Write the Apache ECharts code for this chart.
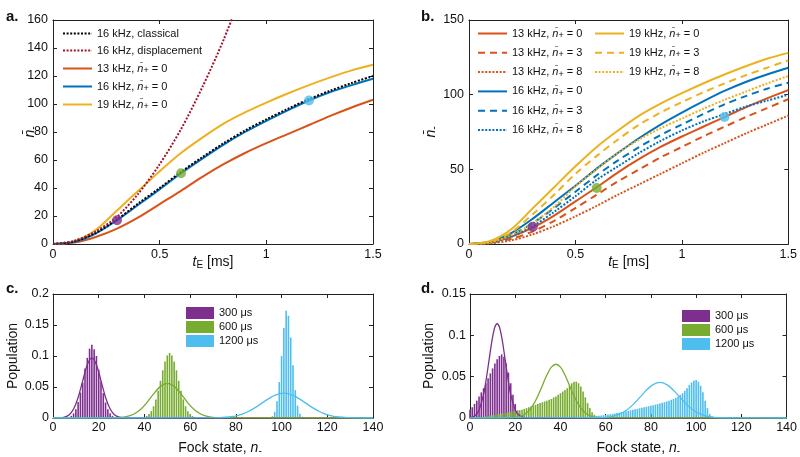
<!DOCTYPE html>
<html>
<head>
  <meta charset="UTF-8" />
  <title>Fock state growth</title>
  <script src="https://cdn.jsdelivr.net/npm/echarts@6/dist/echarts.min.js"></script>
  <style>
    html, body { margin: 0; padding: 0; background: #fff; }
    #main { width: 800px; height: 457px; }
  </style>
</head>
<body>
  <div id="main"></div>
  <script>
    // ---- data: panels a / b (mean occupation vs time) ----
    const tE = [0, 0.1, 0.2, 0.3, 0.4, 0.5, 0.6, 0.7, 0.8, 0.9, 1.0, 1.1, 1.2, 1.3, 1.4, 1.5];
    const nClassical16 = [0, 1.8, 8, 17.5, 29, 40, 51.5, 62, 72, 81, 89, 96.5, 103.5, 109.5, 115, 120];
    const tDisp = [0, 0.1, 0.2, 0.3, 0.4, 0.5, 0.6, 0.7, 0.8, 0.9];
    const nDisp16 = [0, 2.3, 9, 19.5, 36, 57, 82, 112, 146, 185];
    const n13_0 = [0, 1, 5, 11, 19, 28.5, 38, 48, 57, 65, 72, 78.5, 85, 91.5, 97.5, 103];
    const n13_3 = [0, 0.8, 3.5, 8.5, 15.5, 24, 33, 42, 50, 58, 65, 72, 78.5, 85, 91, 97];
    const n13_8 = [0, 0.5, 2.5, 6.5, 12, 18.5, 25.5, 33, 40, 47, 54, 61, 67.5, 74, 80, 86];
    const n16_0 = [0, 1.5, 7.5, 17, 28, 39, 50.5, 61, 71, 80, 88, 95.5, 102.5, 108.5, 113.5, 118];
    const n16_3 = [0, 1.2, 6, 14, 24, 35, 46, 56, 65, 73, 80, 87, 93.5, 99, 104, 108];
    const n16_8 = [0, 1, 5, 12, 21.5, 32, 43, 52, 61, 69, 76, 82, 87, 92, 96, 100];
    const n19_0 = [0, 2, 10, 24, 38, 52, 65, 76, 86, 94, 101, 107.5, 113.5, 119, 124, 128];
    const n19_3 = [0, 1.5, 8, 20, 33, 47, 59, 70, 80, 88, 95, 101.5, 107.5, 113, 118, 123];
    const n19_8 = [0, 1, 6, 14, 25, 38.5, 50, 61, 70, 77.5, 84, 90.5, 96.5, 102, 107.5, 112.5];
    const markT = [0.3, 0.6, 1.2];
    const markA = [17, 50.5, 102.5];
    const markB = [11.5, 37.5, 85];

    // ---- data: panel c (16 kHz) ----
    const c300Start = 8;
    const c300Pop = [0.0035, 0.0075, 0.014, 0.026, 0.041, 0.057, 0.08, 0.097, 0.112, 0.118, 0.111, 0.1, 0.078, 0.059, 0.04, 0.025, 0.014, 0.0075, 0.0035, 0.0015];
    const c600Start = 40;
    const c600Pop = [0.0016, 0.0033, 0.0064, 0.011, 0.019, 0.03, 0.044, 0.06, 0.077, 0.091, 0.101, 0.105, 0.101, 0.091, 0.077, 0.06, 0.044, 0.03, 0.019, 0.011, 0.0064, 0.0033, 0.0016];
    const c1200Start = 96;
    const c1200Pop = [0.003, 0.01, 0.027, 0.058, 0.1, 0.145, 0.173, 0.165, 0.13, 0.085, 0.045, 0.02, 0.007, 0.002];
    const cFit300N = [0, 3, 5, 7, 9, 11, 13, 15, 17, 19, 21, 23, 25, 27, 29, 31, 33, 140];
    const cFit300P = [0, 0.0002, 0.0013, 0.0049, 0.0144, 0.033, 0.06, 0.086, 0.097, 0.086, 0.06, 0.033, 0.0144, 0.0049, 0.0013, 0.0002, 0, 0];
    const cFit600N = [0, 26, 29, 32, 35, 38, 41, 44, 47, 50, 53, 56, 59, 62, 65, 68, 71, 74, 140];
    const cFit600P = [0, 0.0001, 0.0006, 0.0021, 0.0056, 0.0129, 0.0245, 0.0388, 0.051, 0.056, 0.051, 0.0388, 0.0245, 0.0129, 0.0056, 0.0021, 0.0006, 0.0001, 0];
    const cFit1200N = [0, 69, 73, 77, 81, 85, 89, 93, 97, 101, 105, 109, 113, 117, 121, 125, 129, 133, 140];
    const cFit1200P = [0, 0.0001, 0.0005, 0.0016, 0.0043, 0.0097, 0.018, 0.028, 0.0366, 0.04, 0.0366, 0.028, 0.018, 0.0097, 0.0043, 0.0016, 0.0005, 0.0001, 0];

    // ---- data: panel d (13 kHz) ----
    const d300Start = 0;
    const d300Pop = [0.01, 0.013, 0.017, 0.021, 0.026, 0.031, 0.036, 0.042, 0.048, 0.054, 0.06, 0.066, 0.071, 0.075, 0.077, 0.074, 0.066, 0.055, 0.042, 0.028, 0.017, 0.009, 0.004, 0.002];
    const d600Start = 5;
    const d600Pop = [0.001, 0.0015, 0.002, 0.0025, 0.003, 0.0035, 0.004, 0.0045, 0.005, 0.0055, 0.006, 0.0065, 0.007, 0.0075, 0.008, 0.0085, 0.009, 0.0095, 0.01, 0.011,
      0.012, 0.013, 0.014, 0.015, 0.016, 0.017, 0.018, 0.019, 0.02, 0.021, 0.022, 0.023, 0.025, 0.026, 0.028, 0.03, 0.032, 0.034, 0.036, 0.039,
      0.042, 0.044, 0.044, 0.042, 0.038, 0.032, 0.025, 0.018, 0.012, 0.007, 0.004, 0.002, 0.001];
    const d1200Start = 50;
    const d1200Pop = [0.001, 0.0012, 0.0014, 0.0016, 0.0018, 0.002, 0.0023, 0.0026, 0.003, 0.0034, 0.0038, 0.0042, 0.0046, 0.005, 0.0055, 0.006, 0.0065, 0.007, 0.0076, 0.0082,
      0.0088, 0.0094, 0.01, 0.0106, 0.0112, 0.0118, 0.0124, 0.013, 0.0136, 0.0142, 0.0148, 0.0155, 0.0162, 0.0169, 0.0176, 0.0184, 0.0192, 0.02, 0.021, 0.022,
      0.023, 0.0245, 0.026, 0.028, 0.03, 0.033, 0.036, 0.04, 0.043, 0.045, 0.046, 0.044, 0.039, 0.031, 0.021, 0.012, 0.005, 0.002];
    const dFit300N = [0, 2, 4, 6, 7, 8, 9, 10, 11, 12, 13, 14, 15, 16, 17, 18, 20, 22, 24, 26, 140];
    const dFit300P = [0.0005, 0.0024, 0.0098, 0.0285, 0.044, 0.062, 0.081, 0.098, 0.11, 0.114, 0.11, 0.098, 0.081, 0.062, 0.044, 0.0285, 0.0098, 0.0024, 0.0005, 0, 0];
    const dFit600N = [0, 16, 20, 22, 24, 26, 28, 30, 32, 34, 36, 38, 40, 42, 44, 46, 48, 50, 52, 54, 56, 60, 140];
    const dFit600P = [0, 0.0001, 0.0007, 0.0018, 0.0043, 0.0088, 0.0162, 0.0267, 0.0394, 0.052, 0.0615, 0.065, 0.0615, 0.052, 0.0394, 0.0267, 0.0162, 0.0088, 0.0043, 0.0018, 0.0007, 0.0001, 0];
    const dFit1200N = [0, 57, 60, 63, 66, 69, 72, 75, 78, 81, 84, 87, 90, 93, 96, 99, 102, 105, 108, 111, 140];
    const dFit1200P = [0, 0.0003, 0.0008, 0.002, 0.0046, 0.0091, 0.0159, 0.0246, 0.0335, 0.0404, 0.043, 0.0404, 0.0335, 0.0246, 0.0159, 0.0091, 0.0046, 0.002, 0.0008, 0.0003, 0];

    const FONT = '"Liberation Sans", Arial, sans-serif';
    const RED = '#D95319', BLUE = '#0072BD', YEL = '#EDB120', DRED = '#A2142F';
    const PUR = '#7E2F8E', GRN = '#77AC30', CYA = '#4DBEEE';
    const DASH = [7, 5], DOT = [2, 1.6];

    const pairs = (xs, ys) => ys.map((y, i) => [xs[i], y]);
    const fromStart = (start, ys) => ys.map((y, i) => [start + i, y]);

    const legendText = {
      cl16: '16 kHz, classical', disp16: '16 kHz, displacement',
      a13: '13 kHz, {i|n̄}{s|+} = 0', a16: '16 kHz, {i|n̄}{s|+} = 0', a19: '19 kHz, {i|n̄}{s|+} = 0',
      b13_0: '13 kHz, {i|n̄}{s|+} = 0', b13_3: '13 kHz, {i|n̄}{s|+} = 3', b13_8: '13 kHz, {i|n̄}{s|+} = 8',
      b16_0: '16 kHz, {i|n̄}{s|+} = 0', b16_3: '16 kHz, {i|n̄}{s|+} = 3', b16_8: '16 kHz, {i|n̄}{s|+} = 8',
      b19_0: '19 kHz, {i|n̄}{s|+} = 0', b19_3: '19 kHz, {i|n̄}{s|+} = 3', b19_8: '19 kHz, {i|n̄}{s|+} = 8',
      c300: '300 μs', c600: '600 μs', c1200: '1200 μs',
      d300: '300 μs', d600: '600 μs', d1200: '1200 μs'
    };

    function nameStyle(shift) {
      return {
        fontSize: 14, fontFamily: FONT, color: '#111', lineHeight: 16,
        padding: [0, 0, 0, shift || 0],
        rich: {
          i: { fontStyle: 'italic', fontSize: 14, fontFamily: FONT, color: '#111', lineHeight: 16 },
          s: { fontSize: 10, fontFamily: FONT, color: '#111', lineHeight: 9, padding: [9, 0, 0, 0], verticalAlign: 'bottom' }
        }
      };
    }

    function axisPair(kind, grid, min, max, step, name, nameGap, labelMargin, shift) {
      const base = {
        type: 'value', gridIndex: grid, min: min, max: max, interval: step,
        axisLine: { show: true, onZero: false, lineStyle: { color: '#222', width: 1 } },
        axisTick: { inside: true, length: 4, lineStyle: { color: '#222' } },
        splitLine: { show: false }
      };
      const main = Object.assign({}, base, {
        position: kind === 'x' ? 'bottom' : 'left',
        axisLabel: { margin: labelMargin, fontSize: 12.5, color: '#111', fontFamily: FONT },
        name: name, nameLocation: 'middle', nameGap: nameGap, nameMoveOverlap: false,
        nameTextStyle: nameStyle(shift)
      });
      const mirror = Object.assign({}, base, {
        position: kind === 'x' ? 'top' : 'right',
        axisLabel: { show: false }
      });
      return [main, mirror];
    }

    function line(name, ax, data, color, type, width) {
      return {
        name: name, type: 'line', xAxisIndex: ax, yAxisIndex: ax, data: data,
        symbol: 'none', smooth: 0.3, clip: true,
        lineStyle: { color: color, type: type || 'solid', width: width || 2 },
        itemStyle: { color: color }, z: 3
      };
    }

    function bars(name, ax, data, color) {
      return {
        name: name, type: 'bar', xAxisIndex: ax, yAxisIndex: ax, data: data,
        barWidth: 1.6, barGap: '-100%', itemStyle: { color: color }, z: 2
      };
    }

    function markers(ax, ys) {
      const cols = [PUR, GRN, CYA];
      return {
        type: 'scatter', xAxisIndex: ax, yAxisIndex: ax, symbolSize: 10, z: 5,
        data: ys.map((y, i) => ({ value: [markT[i], y], itemStyle: { color: cols[i] } }))
      };
    }

    const legendRich = {
      i: { fontStyle: 'italic', fontSize: 11, fontFamily: FONT, color: '#111', lineHeight: 13 },
      s: { fontSize: 9, fontFamily: FONT, color: '#111', lineHeight: 8, padding: [5, 0, 0, 0], verticalAlign: 'bottom' }
    };
    function lineLegend(left, top, data, gap) {
      return {
        left: left, top: top, orient: 'vertical', padding: 0, itemGap: gap,
        itemWidth: 29, itemHeight: 10, selectedMode: false, data: data,
        itemStyle: { opacity: 0 },
        formatter: n => legendText[n],
        textStyle: { fontSize: 11, fontFamily: FONT, color: '#111', lineHeight: 13, rich: legendRich }
      };
    }
    function barLegend(left, top, data) {
      return {
        left: left, top: top, orient: 'vertical', padding: 0, itemGap: 2,
        itemWidth: 28, itemHeight: 12, icon: 'rect', selectedMode: false, data: data,
        formatter: n => legendText[n],
        textStyle: { fontSize: 11, fontFamily: FONT, color: '#111', lineHeight: 12 }
      };
    }

    const ax = [
      axisPair('x', 0, 0, 1.5, 0.5, '{i|t}{s|E} [ms]', 10, 4),
      axisPair('y', 0, 0, 160, 20, '{i|n̄}{s|-}', 15, 5),
      axisPair('x', 1, 0, 1.5, 0.5, '{i|t}{s|E} [ms]', 10, 4),
      axisPair('y', 1, 0, 150, 50, '{i|n̄}{s|-}', 30, 5),
      axisPair('x', 2, 0, 140, 20, 'Fock state, {i|n}{s|-}', 22, 3, 14),
      axisPair('y', 2, 0, 0.2, 0.05, 'Population', 32, 4),
      axisPair('x', 3, 0, 140, 20, 'Fock state, {i|n}{s|-}', 22, 3, 20),
      axisPair('y', 3, 0, 0.15, 0.05, 'Population', 33, 4)
    ];
    const xAxes = [].concat(ax[0], ax[2], ax[4], ax[6]);
    const yAxes = [].concat(ax[1], ax[3], ax[5], ax[7]);

    const panelTitle = (text, left, top) => ({
      text: text, left: left, top: top, padding: 0,
      textStyle: { fontSize: 15, fontWeight: 'bold', color: '#111', fontFamily: FONT }
    });

    const chart = echarts.init(document.getElementById('main'), null, { renderer: 'canvas' });
    chart.setOption({
      animation: false,
      backgroundColor: '#fff',
      textStyle: { fontFamily: FONT },
      title: [
        panelTitle('a.', 6, 9),
        panelTitle('b.', 421, 9),
        panelTitle('c.', 6, 281),
        panelTitle('d.', 421, 281)
      ],
      grid: [
        { left: 53, top: 20, width: 320, height: 224 },
        { left: 469, top: 20, width: 320, height: 224 },
        { left: 53, top: 294, width: 320, height: 127 },
        { left: 470, top: 294, width: 320, height: 127 }
      ],
      xAxis: xAxes,
      yAxis: yAxes,
      legend: [
        lineLegend(62, 27, ['cl16', 'disp16', 'a13', 'a16', 'a19'], 4),
        lineLegend(477, 26, ['b13_0', 'b13_3', 'b13_8', 'b16_0', 'b16_3', 'b16_8'], 5.3),
        lineLegend(594, 26, ['b19_0', 'b19_3', 'b19_8'], 5.3),
        barLegend(186, 307, ['c300', 'c600', 'c1200']),
        barLegend(682, 310, ['d300', 'd600', 'd1200'])
      ],
      series: [
        // panel a
        line('a13', 0, pairs(tE, n13_0), RED),
        line('a19', 0, pairs(tE, n19_0), YEL),
        line('a16', 0, pairs(tE, n16_0), BLUE),
        line('cl16', 0, pairs(tE, nClassical16), '#000', DOT),
        line('disp16', 0, pairs(tDisp, nDisp16), DRED, DOT),
        markers(0, markA),
        // panel b
        line('b13_0', 2, pairs(tE, n13_0), RED),
        line('b13_3', 2, pairs(tE, n13_3), RED, DASH),
        line('b13_8', 2, pairs(tE, n13_8), RED, DOT),
        line('b16_0', 2, pairs(tE, n16_0), BLUE),
        line('b16_3', 2, pairs(tE, n16_3), BLUE, DASH),
        line('b16_8', 2, pairs(tE, n16_8), BLUE, DOT),
        line('b19_0', 2, pairs(tE, n19_0), YEL),
        line('b19_3', 2, pairs(tE, n19_3), YEL, DASH),
        line('b19_8', 2, pairs(tE, n19_8), YEL, DOT),
        markers(2, markB),
        // panel c
        bars('c300', 4, fromStart(c300Start, c300Pop), PUR),
        bars('c600', 4, fromStart(c600Start, c600Pop), GRN),
        bars('c1200', 4, fromStart(c1200Start, c1200Pop), CYA),
        line('cfit300', 4, pairs(cFit300N, cFit300P), PUR, 'solid', 1.3),
        line('cfit600', 4, pairs(cFit600N, cFit600P), GRN, 'solid', 1.3),
        line('cfit1200', 4, pairs(cFit1200N, cFit1200P), CYA, 'solid', 1.3),
        // panel d
        bars('d300', 6, fromStart(d300Start, d300Pop), PUR),
        bars('d600', 6, fromStart(d600Start, d600Pop), GRN),
        bars('d1200', 6, fromStart(d1200Start, d1200Pop), CYA),
        line('dfit300', 6, pairs(dFit300N, dFit300P), PUR, 'solid', 1.3),
        line('dfit600', 6, pairs(dFit600N, dFit600P), GRN, 'solid', 1.3),
        line('dfit1200', 6, pairs(dFit1200N, dFit1200P), CYA, 'solid', 1.3)
      ]
    });
  </script>
</body>
</html>
